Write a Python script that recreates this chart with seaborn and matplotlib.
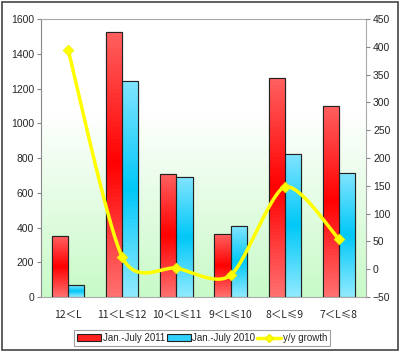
import numpy as np
import matplotlib
matplotlib.use("Agg")
import matplotlib.pyplot as plt
import matplotlib.colors as mcolors
from matplotlib.patches import Rectangle, Patch
from matplotlib.lines import Line2D
import pandas as pd
import seaborn as sns

# data
categories = ["12＜L", "11＜L≤12", "10＜L≤11", "9＜L≤10", "8＜L≤9", "7＜L≤8"]
sales_2011 = [350, 1525, 710, 362, 1258, 1100]
sales_2010 = [67, 1242, 690, 407, 825, 713]
growth = [395, 22, 2, -11, 148, 54]
series_names = ["Jan.-July 2011", "Jan.-July 2010", "y/y growth"]

sns.set_style("white")
plt.rcParams["font.family"] = ["Liberation Sans", "DejaVu Sans"]

df = pd.DataFrame({
    "cat": categories * 2,
    "val": sales_2011 + sales_2010,
    "series": [series_names[0]] * 6 + [series_names[1]] * 6,
})

fig = plt.figure(figsize=(4.0, 3.52), dpi=100)
ax = fig.add_axes([0.1025, 0.156, 0.8125, 0.79])

# plot area background: white at top fading to pale green
grad = np.linspace(0, 1, 256)
grad = np.clip(grad * 1.5, 0, 1)
bg_cmap = mcolors.LinearSegmentedColormap.from_list("bg", ["#c8fac8", "#ffffff"])
ax.imshow(grad[:, None], cmap=bg_cmap, aspect="auto", origin="lower",
          extent=[-0.5, 5.5, 0, 1600], zorder=0)

sns.barplot(data=df, x="cat", y="val", hue="series",
            palette=["#ff2020", "#30d0ff"], width=0.6, gap=0,
            edgecolor="#222222", linewidth=0.8, legend=False, ax=ax, zorder=2)

# vertical light-dark-light gradient on each bar
red_cmap = mcolors.LinearSegmentedColormap.from_list("r", ["#ff7070", "#ff0000", "#ff6060"])
cyan_cmap = mcolors.LinearSegmentedColormap.from_list("c", ["#90eaff", "#00c8f8", "#80e4ff"])
bars = ax.patches
for i, bar in enumerate(bars):
    cmap = red_cmap if i < 6 else cyan_cmap
    x0, y0 = bar.get_x(), bar.get_y()
    w, h = bar.get_width(), bar.get_height()
    img = ax.imshow(np.linspace(1, 0, 64)[:, None], cmap=cmap, aspect="auto",
                    extent=[x0, x0 + w, y0, y0 + h], zorder=2.5)
    img.set_clip_path(bar)
    ax.add_patch(Rectangle((x0, y0), w, h, fill=False, edgecolor="#222222",
                           linewidth=0.8, zorder=3))

ax.set_xlim(-0.5, 5.5)
ax.set_ylim(0, 1600)
ax.set_yticks(range(0, 1601, 200))
ax.set_xlabel("")
ax.set_ylabel("")
ax.set_xticks(range(6))
ax.set_xticklabels(categories, fontsize=7.5,
                   fontfamily=["Noto Sans CJK SC", "DejaVu Sans"])
ax.set_xticks(np.arange(-0.5, 6, 1), minor=True)
ax.tick_params(axis="x", which="major", length=0, pad=9)
ax.tick_params(axis="x", which="minor", length=3, color="#999999", direction="in")
ax.tick_params(axis="y", labelsize=7.5, length=3, color="#888888", direction="out", pad=2)
for s in ["top", "right", "bottom"]:
    ax.spines[s].set_color("#aaaaaa")
    ax.spines[s].set_linewidth(0.8)
ax.spines["left"].set_color("#888888")
ax.spines["left"].set_linewidth(0.8)

# growth line on the right axis, smoothed like the original
ax2 = ax.twinx()
x = np.arange(6, dtype=float)
y = np.array(growth, dtype=float)
px = np.concatenate([[x[0]], x, [x[-1]]])
py = np.concatenate([[y[0]], y, [y[-1]]])
sx, sy = [], []
t = np.linspace(0, 1, 40)
for k in range(1, len(px) - 2):
    p0, p1, p2, p3 = (np.array([px[j], py[j]]) for j in range(k - 1, k + 3))
    m1 = (p2 - p0) / 2 * 0.8
    m2 = (p3 - p1) / 2 * 0.8
    h00 = 2 * t**3 - 3 * t**2 + 1
    h10 = t**3 - 2 * t**2 + t
    h01 = -2 * t**3 + 3 * t**2
    h11 = t**3 - t**2
    seg = (h00[:, None] * p1 + h10[:, None] * m1 + h01[:, None] * p2 + h11[:, None] * m2)
    sx.extend(seg[:, 0])
    sy.extend(seg[:, 1])
sns.lineplot(x=sx, y=sy, color="#ffff00", linewidth=2.5, sort=False, ax=ax2, zorder=4)
sns.scatterplot(x=x, y=y, marker="D", color="#ffff00", s=30, edgecolor="#eeee00",
                linewidth=0.5, ax=ax2, zorder=5)
ax2.set_ylim(-50, 450)
ax2.set_yticks(range(-50, 451, 50))
ax2.tick_params(axis="y", labelsize=7.5, length=3, color="#888888", direction="out", pad=2)
for s in ax2.spines.values():
    s.set_visible(False)

handles = [
    Patch(facecolor="#ff2020", edgecolor="#222222", linewidth=0.8),
    Patch(facecolor="#30d0ff", edgecolor="#222222", linewidth=0.8),
    Line2D([0], [0], color="#ffff00", linewidth=2.5, marker="D",
           markersize=4, markeredgecolor="#eeee00"),
]
leg = fig.legend(handles, series_names, loc="center", bbox_to_anchor=(0.505, 0.04),
                 ncol=3, fontsize=7, frameon=True, fancybox=False,
                 handlelength=2.5, handleheight=0.6, handletextpad=0.15,
                 columnspacing=0.15, borderpad=0.3, edgecolor="#888888")
leg.get_frame().set_linewidth(0.8)

# outer chart border
fig.patches.append(Rectangle((0.005, 0.006), 0.99, 0.988, transform=fig.transFigure,
                             fill=False, edgecolor="#444444", linewidth=1.2))

fig.savefig("out.png", dpi=100)
